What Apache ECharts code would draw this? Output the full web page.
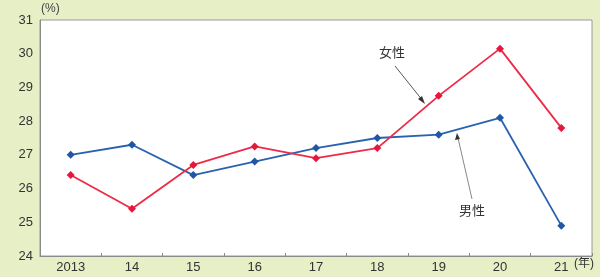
<!DOCTYPE html>
<html><head><meta charset="utf-8">
<script src="https://cdn.jsdelivr.net/npm/echarts@6/dist/echarts.min.js"></script>
<style>html,body{margin:0;padding:0;background:#e6efc6;}#c{width:600px;height:277px;}</style>
</head><body><div id="c"></div>
<script>
const categories = ['2013','14','15','16','17','18','19','20','21'];
const male = [27.0, 27.3, 26.4, 26.8, 27.2, 27.5, 27.6, 28.1, 24.9];
const female = [26.4, 25.4, 26.7, 27.25, 26.9, 27.2, 28.75, 30.15, 27.8];
const yTicks = [24, 25, 26, 27, 28, 29, 30, 31];

const font = '"Liberation Sans", "Noto Sans CJK JP", sans-serif';
const chart = echarts.init(document.getElementById('c'));
chart.setOption({
  backgroundColor: '#e6efc6',
  animation: false,
  grid: {left: 40, right: 8, top: 20, bottom: 21, show: true, backgroundColor: '#ffffff', borderColor: '#9a9a9a', borderWidth: 1},
  xAxis: {
    type: 'category', data: categories, boundaryGap: true,
    axisLine: {lineStyle: {color: '#8a8a8a', width: 1}},
    axisTick: {show: true, inside: true, length: 3, lineStyle: {color: '#8a8a8a'}},
    axisLabel: {color: '#333', fontSize: 13, fontFamily: font, margin: 5}
  },
  yAxis: {
    type: 'value', min: yTicks[0], max: yTicks[yTicks.length-1], interval: 1,
    axisLine: {show: true, lineStyle: {color: '#8a8a8a', width: 1}},
    axisTick: {show: false},
    splitLine: {show: false},
    axisLabel: {color: '#333', fontSize: 13, fontFamily: font, margin: 7}
  },
  series: [
    {name: '男性', type: 'line', data: male, symbol: 'diamond', symbolSize: 8,
     lineStyle: {color: '#2a62ad', width: 1.8}, itemStyle: {color: '#1f56a5'}},
    {name: '女性', type: 'line', data: female, symbol: 'diamond', symbolSize: 8,
     lineStyle: {color: '#ee2a48', width: 1.8}, itemStyle: {color: '#e8163c'}}
  ],
  graphic: [
    {type: 'text', left: 41, top: 3, style: {text: '(%)', fill: '#444', font: '12px ' + font}},
    {type: 'text', left: 574, top: 258, style: {text: '(年)', fill: '#333', font: '12px ' + font}},
    {type: 'text', left: 379, top: 46, style: {text: '女性', fill: '#333', font: '13px "Noto Sans CJK JP", sans-serif'}},
    {type: 'text', left: 459, top: 204, style: {text: '男性', fill: '#333', font: '13px "Noto Sans CJK JP", sans-serif'}},
    {type: 'line', shape: {x1: 395, y1: 66, x2: 423, y2: 101}, style: {stroke: '#555', lineWidth: 1}},
    {type: 'polygon', shape: {points: [[425,104],[418,99],[422,96]]}, style: {fill: '#333'}},
    {type: 'line', shape: {x1: 472, y1: 199, x2: 458, y2: 138}, style: {stroke: '#888', lineWidth: 1}},
    {type: 'polygon', shape: {points: [[457,133],[455,140],[460,139]]}, style: {fill: '#333'}}
  ]
});
</script></body></html>
